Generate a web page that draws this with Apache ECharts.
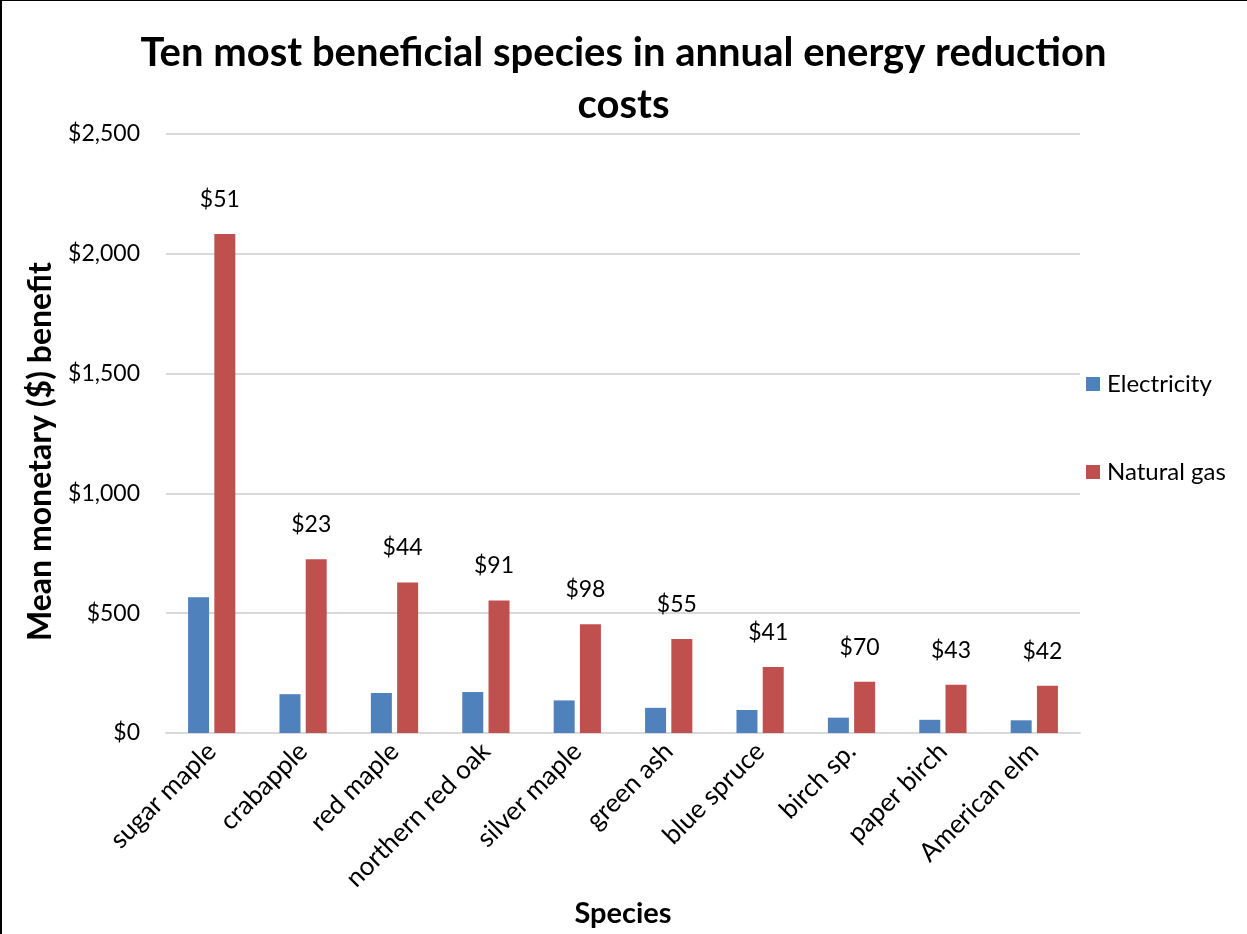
<!DOCTYPE html>
<html>
<head>
<meta charset="utf-8">
<script src="https://cdn.jsdelivr.net/npm/echarts@6/dist/echarts.min.js"></script>
<style>
  html, body { margin: 0; padding: 0; background: #fff; }
  #frame { position: absolute; left: 0; top: 0; width: 1247px; height: 934px; box-sizing: border-box;
           border-left: 2px solid #000; border-top: 1px solid #000; }
  #chart { position: absolute; left: 0; top: 0; width: 1247px; height: 934px; }
</style>
</head>
<body>
<div id="chart"></div>
<div id="frame"></div>
<script>
// Species ranked by energy savings
const species = ['sugar maple', 'crabapple', 'red maple', 'northern red oak', 'silver maple',
                 'green ash', 'blue spruce', 'birch sp.', 'paper birch', 'American elm'];
// Mean monetary benefit per tree ($)
const electricity = [567, 162, 167, 171, 136, 105, 96, 64, 55, 53];
const naturalGas  = [2083, 725, 628, 553, 454, 392, 275, 214, 201, 197];
// Annotations shown above the natural gas bars
const gasNotes = ['$51', '$23', '$44', '$91', '$98', '$55', '$41', '$70', '$43', '$42'];
// Value axis ticks
const yTicks = [0, 500, 1000, 1500, 2000, 2500];

const FONT = 'Lato';
const fmtMoney = v => '$' + v.toLocaleString('en-US');

const chart = echarts.init(document.getElementById('chart'), null, { renderer: 'canvas' });
chart.setOption({
  backgroundColor: '#fff',
  textStyle: { fontFamily: FONT, color: '#000' },
  title: {
    text: 'Ten most beneficial species in annual energy reduction\ncosts',
    left: 'center', top: 22,
    textStyle: { fontFamily: FONT, fontSize: 40, fontWeight: 'bold', color: '#000', lineHeight: 52 }
  },
  legend: {
    orient: 'vertical', left: 1081, top: 367, itemGap: 64,
    itemWidth: 14, itemHeight: 14, icon: 'rect',
    textStyle: { fontFamily: FONT, fontSize: 24, color: '#000', padding: [0, 0, 0, 2] },
    data: ['Electricity', 'Natural gas']
  },
  grid: { left: 166, right: 167, top: 134, bottom: 201, containLabel: false },
  xAxis: {
    type: 'category', data: species,
    name: 'Species', nameLocation: 'middle', nameGap: 165,
    nameTextStyle: { fontFamily: FONT, fontSize: 29, fontWeight: 'bold', color: '#000' },
    axisLine: { lineStyle: { color: '#d9d9d9', width: 2 } },
    axisTick: { show: false },
    axisLabel: { rotate: 45, fontSize: 26, color: '#000', margin: 14, interval: 0 }
  },
  yAxis: {
    type: 'value', min: yTicks[0], max: yTicks[yTicks.length - 1], interval: yTicks[1] - yTicks[0],
    name: 'Mean monetary ($) benefit', nameLocation: 'middle', nameGap: 109, nameRotate: 90,
    nameTextStyle: { fontFamily: FONT, fontSize: 32, fontWeight: 'bold', color: '#000', padding: [0, 36, 0, 0] },
    axisLine: { show: false }, axisTick: { show: false },
    axisLabel: { fontSize: 23, color: '#000', margin: 26, formatter: fmtMoney },
    splitLine: { lineStyle: { color: '#d9d9d9', width: 2 } }
  },
  series: [
    {
      name: 'Electricity', type: 'bar', data: electricity,
      barWidth: 21, barGap: '25%',
      itemStyle: { color: '#4F81BD' }
    },
    {
      name: 'Natural gas', type: 'bar', data: naturalGas,
      barWidth: 21,
      itemStyle: { color: '#C0504D' },
      label: {
        show: true, position: 'top', distance: 23, offset: [-5, 0],
        fontFamily: FONT, fontSize: 23, color: '#000',
        formatter: p => gasNotes[p.dataIndex]
      }
    }
  ]
});
</script>
</body>
</html>
